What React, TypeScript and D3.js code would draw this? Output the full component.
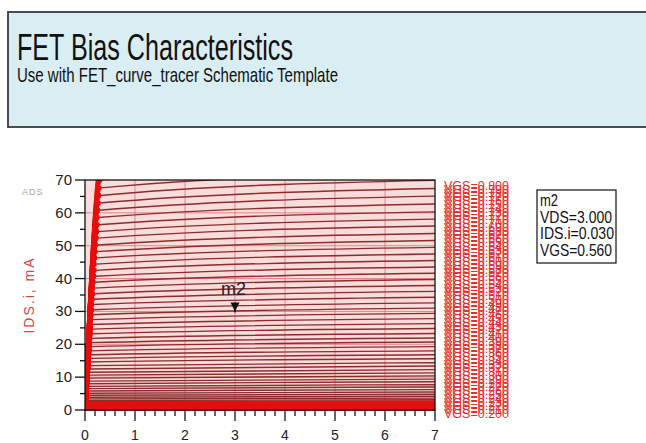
import * as d3 from "d3";

// swept gate voltages, one curve each
const VGS = [
  0.2, 0.21, 0.22, 0.23, 0.24, 0.25, 0.26, 0.27, 0.28, 0.29,
  0.3, 0.31, 0.32, 0.33, 0.34, 0.35, 0.36, 0.37, 0.38, 0.39,
  0.4, 0.41, 0.42, 0.43, 0.44, 0.45, 0.46, 0.47, 0.48, 0.49,
  0.5, 0.51, 0.52, 0.53, 0.54, 0.55, 0.56, 0.57, 0.58, 0.59,
  0.6, 0.61, 0.62, 0.63, 0.64, 0.65, 0.66, 0.67, 0.68, 0.69,
  0.7, 0.71, 0.72, 0.73, 0.74, 0.75, 0.76, 0.77, 0.78, 0.79,
  0.8,
];
// VDS where each curve flattens (V)
const KNEE_V = [
  0.03, 0.03, 0.03, 0.03, 0.03, 0.03, 0.04, 0.04, 0.04, 0.04,
  0.04, 0.04, 0.05, 0.05, 0.05, 0.05, 0.06, 0.06, 0.06, 0.07,
  0.07, 0.07, 0.08, 0.08, 0.09, 0.09, 0.1, 0.1, 0.11, 0.11,
  0.12, 0.12, 0.13, 0.13, 0.14, 0.14, 0.15, 0.16, 0.16, 0.17,
  0.18, 0.18, 0.19, 0.2, 0.21, 0.21, 0.22, 0.23, 0.24, 0.25,
  0.26, 0.27, 0.27, 0.28, 0.29, 0.3, 0.31, 0.32, 0.33, 0.34,
  0.35,
];
// IDS at the knee (mA)
const I_KNEE = [
  0.1, 0.2, 0.3, 0.5, 0.7, 1.0, 1.3, 1.6, 2.0, 2.4,
  2.9, 3.4, 3.9, 4.5, 5.1, 5.8, 6.5, 7.2, 8.0, 8.8,
  9.7, 10.6, 11.5, 12.5, 13.5, 14.6, 15.7, 16.8, 18.0, 19.3,
  20.5, 21.8, 23.2, 24.6, 26.0, 27.5, 29.0, 30.5, 32.1, 33.7,
  35.4, 37.1, 38.9, 40.7, 42.5, 44.4, 46.3, 48.2, 50.2, 52.3,
  54.3, 56.4, 58.6, 60.8, 63.0, 65.3, 67.6, 70.0, 72.4, 74.8,
  77.3,
];
// IDS at VDS = 7 V (mA)
const I_END = [
  0.1, 0.2, 0.3, 0.5, 0.7, 1.1, 1.4, 1.7, 2.1, 2.6,
  3.1, 3.6, 4.2, 4.8, 5.5, 6.2, 7.0, 7.7, 8.6, 9.4,
  10.4, 11.3, 12.3, 13.4, 14.4, 15.6, 16.8, 18.0, 19.3, 20.7,
  21.9, 23.3, 24.8, 26.3, 27.8, 29.4, 31.0, 32.6, 34.3, 36.1,
  37.9, 39.7, 41.6, 43.5, 45.5, 47.5, 49.5, 51.6, 53.7, 56.0,
  58.1, 60.3, 62.7, 65.1, 67.4, 69.9, 72.3, 74.9, 77.5, 80.0,
  82.7,
];
const VDS_END = 7;
const X_TICKS = [0, 1, 2, 3, 4, 5, 6, 7];
const Y_TICKS = [0, 10, 20, 30, 40, 50, 60, 70];
const MARKER = { name: "m2", vds: 3.0, ids: 30, vgs: 0.56 };

const FONT = "'Liberation Sans', Arial, sans-serif";
const L = 85, R = 435, T = 180, B = 410;

export default function App() {
  const x = d3.scaleLinear().domain([0, 7]).range([L, R]);
  const y = d3.scaleLinear().domain([0, 70]).range([B, T]);
  const line = d3.line<[number, number]>().x((d) => x(d[0])).y((d) => y(d[1])).curve(d3.curveMonotoneX);
  const curves = VGS.map((v, i) => ({
    vgs: v,
    kv: KNEE_V[i],
    d: line([[0, 0], [KNEE_V[i], I_KNEE[i]], [VDS_END, I_END[i]]]) ?? "",
    low: I_END[i] < 3,
  }));
  const legendY = d3.scalePoint<number>().domain(d3.range(VGS.length)).range([414, 186]);
  const minorX = x.ticks(35);
  const minorY = y.ticks(14);
  const mx = x(MARKER.vds), my = y(MARKER.ids);
  const readout = [
    MARKER.name,
    `VDS=${MARKER.vds.toFixed(3)}`,
    `IDS.i=${(MARKER.ids / 1000).toFixed(3)}`,
    `VGS=${MARKER.vgs.toFixed(3)}`,
  ];

  return (
    <svg width={646} height={443} style={{ position: "absolute", left: 0, top: 0, background: "#fff" }} fontFamily={FONT}>
      <defs>
        <clipPath id="plot"><rect x={L} y={T} width={R - L} height={B - T} /></clipPath>
        {curves.map((c, i) => (
          <clipPath key={i} id={`knee${i}`}><rect x={L - 3} y={T} width={x(c.kv) - L + 4} height={B - T + 2} /></clipPath>
        ))}
      </defs>

      {/* title block */}
      <rect x={8} y={12} width={660} height={115} fill="#d9eef2" stroke="#3a3a3a" strokeWidth={1.8} />
      <text x={17} y={60} fontSize={36} fill="#111" textLength={276} lengthAdjust="spacingAndGlyphs">FET Bias Characteristics</text>
      <text x={17} y={82} fontSize={21} fill="#111" textLength={321} lengthAdjust="spacingAndGlyphs">Use with FET_curve_tracer Schematic Template</text>

      {/* plot */}
      <rect x={L} y={T} width={R - L} height={B - T} fill="#f9dcdc" />
      {X_TICKS.slice(1, -1).map((t) => (
        <line key={t} x1={x(t)} x2={x(t)} y1={T} y2={B} stroke="#de6e6e" strokeWidth={0.8} />
      ))}
      {Y_TICKS.slice(1, -1).map((t) => (
        <line key={t} x1={L} x2={R} y1={y(t)} y2={y(t)} stroke="#de6e6e" strokeWidth={0.8} />
      ))}
      <g clipPath="url(#plot)" fill="none">
        {curves.map((c, i) => (
          <path key={i} d={c.d} stroke={c.low ? "#e01010" : "#8e2b2b"} strokeWidth={c.low ? 2.4 : 1.4} />
        ))}
        {curves.map((c, i) => (
          <path key={"k" + i} d={c.d} clipPath={`url(#knee${i})`} stroke="#e80c0c" strokeWidth={4.5} />
        ))}
      </g>
      <line x1={L} x2={R} y1={B - 1} y2={B - 1} stroke="#e01010" strokeWidth={4} />
      <rect x={L} y={T} width={R - L} height={B - T} fill="none" stroke="#111" strokeWidth={1.3} />

      {/* y axis */}
      {minorY.map((t) => (
        <line key={t} x1={t % 10 === 0 ? L - 10 : L - 5} x2={L} y1={y(t)} y2={y(t)} stroke="#111" strokeWidth={1.3} />
      ))}
      {Y_TICKS.map((t) => (
        <text key={t} x={72} y={y(t) + 5} fontSize={15} textAnchor="end" fill="#222">{t}</text>
      ))}
      <text x={0} y={0} transform="translate(34,295) rotate(-90)" fontSize={14} letterSpacing={2} textAnchor="middle" fill="#d04848">IDS.i, mA</text>
      <text x={22} y={195} fontSize={9} letterSpacing={1} fill="#a8a8a8">ADS</text>

      {/* x axis */}
      {minorX.map((t, i) => (
        <line key={i} x1={x(t)} x2={x(t)} y1={B} y2={i % 5 === 0 ? B + 11 : B + 6} stroke="#111" strokeWidth={1.3} />
      ))}
      {X_TICKS.map((t) => (
        <text key={t} x={x(t)} y={440} fontSize={14} textAnchor="middle" fill="#222">{t}</text>
      ))}

      {/* marker */}
      <path d={`M${mx - 4.5},${my - 9}L${mx + 4.5},${my - 9}L${mx},${my}Z`} fill="#111" />
      <line x1={mx} x2={mx} y1={my - 9} y2={my + 1} stroke="#111" strokeWidth={1.5} />
      <text x={mx - 14} y={my - 16} fontSize={18} fill="#222" textLength={25} lengthAdjust="spacingAndGlyphs">{MARKER.name}</text>

      {/* legend */}
      {curves.map((c, i) => (
        <text key={i} x={444} y={legendY(i)! + 4} fontSize={13} fill="#e23030" textLength={65} lengthAdjust="spacingAndGlyphs">
          {`VGS=${c.vgs.toFixed(3)}`}
        </text>
      ))}

      {/* marker readout */}
      <rect x={537} y={190} width={79} height={73} fill="#fff" stroke="#111" strokeWidth={1.2} />
      {readout.map((s, i) => (
        <text key={i} x={540} y={206 + i * 16.5} fontSize={17} fill="#111" textLength={i === 0 ? 18 : i === 2 ? 74 : 72} lengthAdjust="spacingAndGlyphs">{s}</text>
      ))}
    </svg>
  );
}
